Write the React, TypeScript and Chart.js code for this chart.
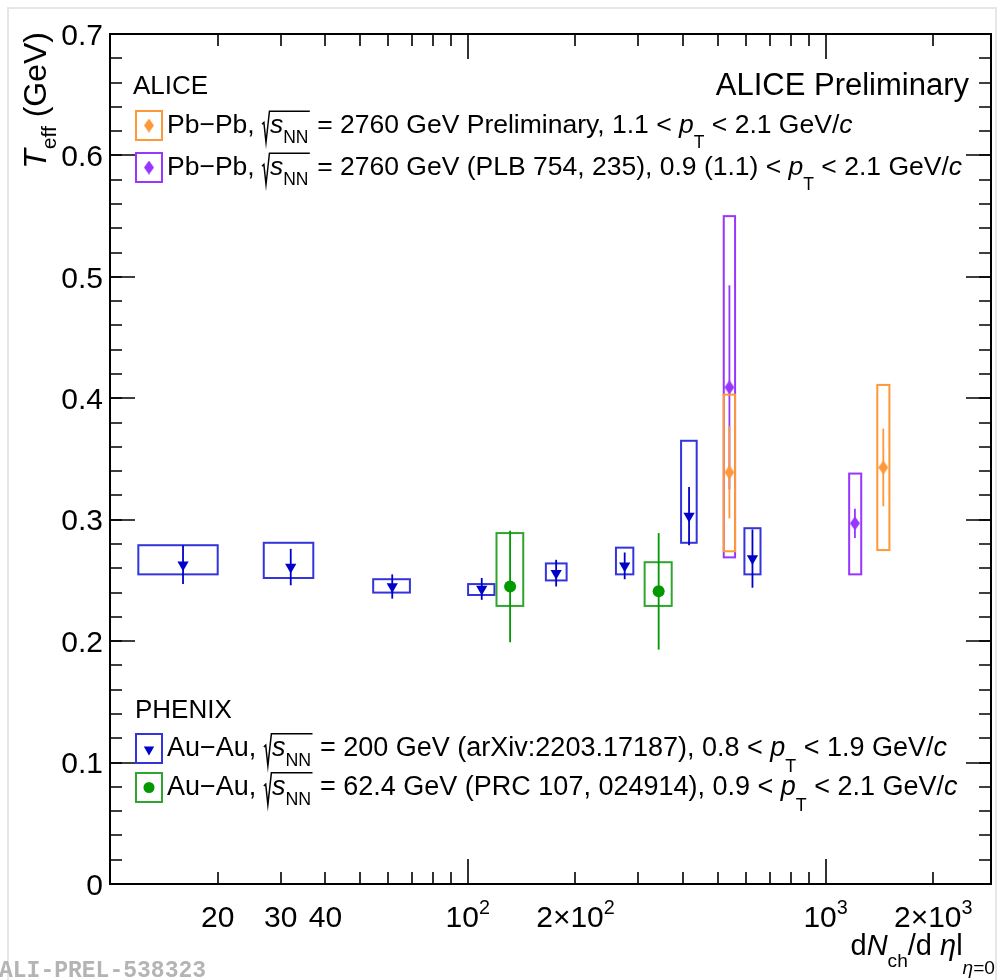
import React, { useEffect, useRef } from 'react';
import { Chart, registerables } from 'chart.js';

Chart.register(...registerables);

const FONT = '"Liberation Sans", Arial, Helvetica, sans-serif';

// PHENIX Au–Au, √sNN = 200 GeV
const auau200Nch = [16.0, 32.0, 61.5, 109.4, 176.6, 274.5, 415.4, 624.7];
const auau200NchLo = [12.0, 26.9, 54.4, 100.2, 165.3, 259.5, 394.6, 593.2];
const auau200NchHi = [20.0, 37.0, 68.9, 118.7, 188.9, 290.2, 436.3, 657.9];
const auau200Teff = [0.263, 0.261, 0.245, 0.243, 0.256, 0.262, 0.303, 0.268];
const auau200Stat = [0.016, 0.015, 0.010, 0.009, 0.011, 0.011, 0.024, 0.024];
const auau200SysLo = [0.255, 0.252, 0.240, 0.238, 0.250, 0.255, 0.281, 0.255];
const auau200SysHi = [0.279, 0.281, 0.251, 0.247, 0.264, 0.277, 0.365, 0.293];

// PHENIX Au–Au, √sNN = 62.4 GeV
const auau62Nch = [131.3, 341.6];
const auau62NchLo = [120.3, 312.1];
const auau62NchHi = [142.9, 371.5];
const auau62Teff = [0.245, 0.241];
const auau62Stat = [0.046, 0.048];
const auau62SysLo = [0.229, 0.229];
const auau62SysHi = [0.289, 0.265];

// ALICE Pb–Pb, √sNN = 2760 GeV, preliminary
const pbpbPrelNch = [538.6, 1450];
const pbpbPrelNchLo = [519.3, 1395];
const pbpbPrelNchHi = [558.6, 1508];
const pbpbPrelTeff = [0.339, 0.343];
const pbpbPrelStat = [0.038, 0.032];
const pbpbPrelSysLo = [0.274, 0.275];
const pbpbPrelSysHi = [0.403, 0.411];

// ALICE Pb–Pb, √sNN = 2760 GeV, PLB 754, 235
const pbpbPlbNch = [538.6, 1208];
const pbpbPlbNchLo = [519.3, 1164];
const pbpbPlbNchHi = [558.6, 1258];
const pbpbPlbTeff = [0.409, 0.297];
const pbpbPlbStat = [0.084, 0.012];
const pbpbPlbSysLo = [0.269, 0.255];
const pbpbPlbSysHi = [0.550, 0.338];

// Axis ranges and ticks
const xMin = 10;
const xMax = 2900;
const yMin = 0;
const yMax = 0.7;
const xMajorTicks = [100, 1000];
const xMinorTicks = [20, 30, 40, 50, 60, 70, 80, 90, 200, 300, 400, 500, 600, 700, 800, 900, 2000];
const xLabelValues = [20, 30, 40, 100, 200, 1000, 2000];
const xLabelBases = ['20', '30', '40', '10', '2×10', '10', '2×10'];
const xLabelExps = ['', '', '', '2', '2', '3', '3'];
const yMajorTicks = [0, 0.1, 0.2, 0.3, 0.4, 0.5, 0.6, 0.7];
const yTickLabels = ['0', '0.1', '0.2', '0.3', '0.4', '0.5', '0.6', '0.7'];
const yMinorStep = 0.02;

const BLUE = '#0000cc';
const BLUE_BOX = '#3434dc';
const GREEN = '#009a00';
const GREEN_BOX = '#2fa52f';
const ORANGE = '#ff9838';
const PURPLE = '#9636ff';

type Seg = { t?: string; it?: boolean; sub?: number; sup?: boolean; sqrt?: Seg[] };

const fontOf = (size: number, italic?: boolean) => `${italic ? 'italic ' : ''}${size}px ${FONT}`;

function segSize(s: Seg, size: number) {
  return s.sub !== undefined || s.sup ? size * 0.66 : size;
}

function richWidth(ctx: CanvasRenderingContext2D, segs: Seg[], size: number): number {
  let w = 0;
  for (const s of segs) {
    if (s.sqrt) {
      w += size * 0.3 + richWidth(ctx, s.sqrt, size) + size * 0.05;
    } else {
      ctx.font = fontOf(segSize(s, size), s.it);
      w += ctx.measureText(s.t || '').width;
    }
  }
  return w;
}

function drawRich(ctx: CanvasRenderingContext2D, segs: Seg[], x: number, y: number, size: number): number {
  for (const s of segs) {
    if (s.sqrt) {
      const innerW = richWidth(ctx, s.sqrt, size);
      const topY = y - size * 0.82;
      ctx.save();
      ctx.strokeStyle = ctx.fillStyle as string;
      ctx.lineWidth = Math.max(1.2, size * 0.055);
      ctx.lineJoin = 'miter';
      ctx.beginPath();
      ctx.moveTo(x, y - size * 0.33);
      ctx.lineTo(x + size * 0.07, y - size * 0.4);
      ctx.lineTo(x + size * 0.15, y + size * 0.36);
      ctx.lineTo(x + size * 0.28, topY);
      ctx.lineTo(x + size * 0.3 + innerW + size * 0.05, topY);
      ctx.stroke();
      ctx.restore();
      x = drawRich(ctx, s.sqrt, x + size * 0.3, y, size) + size * 0.05;
    } else {
      const sz = segSize(s, size);
      const dy = s.sub !== undefined ? s.sub * size : s.sup ? -size * 0.42 : 0;
      ctx.font = fontOf(sz, s.it);
      ctx.textAlign = 'left';
      ctx.textBaseline = 'alphabetic';
      ctx.fillText(s.t || '', x, y + dy);
      x += ctx.measureText(s.t || '').width;
    }
  }
  return x;
}

const sqrtS: Seg = { sqrt: [{ t: 's', it: true }, { t: 'NN', sub: 0.38 }] };
const pT: Seg[] = [{ t: 'p', it: true }, { t: 'T', sub: 0.58 }];
const gevC: Seg[] = [{ t: ' < 2.1 GeV/' }, { t: 'c', it: true }];

const legendAlice: Seg[][] = [
  [{ t: 'Pb−Pb, ' }, sqrtS, { t: ' = 2760 GeV Preliminary, 1.1 < ' }, ...pT, ...gevC],
  [{ t: 'Pb−Pb, ' }, sqrtS, { t: ' = 2760 GeV (PLB 754, 235), 0.9 (1.1) < ' }, ...pT, ...gevC],
];
const legendPhenix: Seg[][] = [
  [{ t: 'Au−Au, ' }, sqrtS, { t: ' = 200 GeV (arXiv:2203.17187), 0.8 < ' }, ...pT, { t: ' < 1.9 GeV/' }, { t: 'c', it: true }],
  [{ t: 'Au−Au, ' }, sqrtS, { t: ' = 62.4 GeV (PRC 107, 024914), 0.9 < ' }, ...pT, ...gevC],
];
const yTitle: Seg[] = [{ t: 'T', it: true }, { t: 'eff', sub: 0.3 }, { t: ' (GeV)' }];
const xTitle: Seg[] = [
  { t: 'd' }, { t: 'N', it: true }, { t: 'ch', sub: 0.4 }, { t: '/d ' }, { t: 'η', it: true },
  { t: 'l' }, { t: 'η', it: true, sub: 0.66 }, { t: '=0', sub: 0.66 },
];

function makeDiamond(color: string, w: number, h: number) {
  const c = document.createElement('canvas');
  c.width = w;
  c.height = h;
  const g = c.getContext('2d')!;
  g.fillStyle = color;
  g.beginPath();
  g.moveTo(w / 2, 0);
  g.lineTo(w, h / 2);
  g.lineTo(w / 2, h);
  g.lineTo(0, h / 2);
  g.closePath();
  g.fill();
  return c;
}

type Series = {
  x: number[]; xLo: number[]; xHi: number[]; y: number[]; stat: number[];
  sysLo: number[]; sysHi: number[]; bar: string; box: string;
};

const seriesList: Series[] = [
  { x: auau200Nch, xLo: auau200NchLo, xHi: auau200NchHi, y: auau200Teff, stat: auau200Stat, sysLo: auau200SysLo, sysHi: auau200SysHi, bar: BLUE, box: BLUE_BOX },
  { x: auau62Nch, xLo: auau62NchLo, xHi: auau62NchHi, y: auau62Teff, stat: auau62Stat, sysLo: auau62SysLo, sysHi: auau62SysHi, bar: GREEN, box: GREEN_BOX },
  { x: pbpbPlbNch, xLo: pbpbPlbNchLo, xHi: pbpbPlbNchHi, y: pbpbPlbTeff, stat: pbpbPlbStat, sysLo: pbpbPlbSysLo, sysHi: pbpbPlbSysHi, bar: PURPLE, box: PURPLE },
  { x: pbpbPrelNch, xLo: pbpbPrelNchLo, xHi: pbpbPrelNchHi, y: pbpbPrelTeff, stat: pbpbPrelStat, sysLo: pbpbPrelSysLo, sysHi: pbpbPrelSysHi, bar: ORANGE, box: ORANGE },
];

function drawTriangleDown(ctx: CanvasRenderingContext2D, x: number, y: number, r: number, color: string) {
  ctx.fillStyle = color;
  ctx.beginPath();
  ctx.moveTo(x - r * 0.866, y - r * 0.5);
  ctx.lineTo(x + r * 0.866, y - r * 0.5);
  ctx.lineTo(x, y + r);
  ctx.closePath();
  ctx.fill();
}

export default function App() {
  const ref = useRef<HTMLCanvasElement>(null);

  useEffect(() => {
    document.body.style.margin = '0';
    const canvas = ref.current!;
    const diamondOrange = makeDiamond(ORANGE, 10, 14);
    const diamondPurple = makeDiamond(PURPLE, 10, 14);

    const uncertainties = {
      id: 'uncertainties',
      beforeDatasetsDraw(chart: any) {
        const ctx: CanvasRenderingContext2D = chart.ctx;
        const xs = chart.scales.x;
        const ys = chart.scales.y;
        ctx.save();
        for (const s of seriesList) {
          s.x.forEach((xv, i) => {
            const x0 = xs.getPixelForValue(s.xLo[i]);
            const x1 = xs.getPixelForValue(s.xHi[i]);
            const y0 = ys.getPixelForValue(s.sysHi[i]);
            const y1 = ys.getPixelForValue(s.sysLo[i]);
            ctx.strokeStyle = s.box;
            ctx.lineWidth = 2;
            ctx.strokeRect(x0, y0, x1 - x0, y1 - y0);
            const px = xs.getPixelForValue(xv);
            ctx.strokeStyle = s.bar;
            ctx.lineWidth = 1.8;
            ctx.beginPath();
            ctx.moveTo(px, ys.getPixelForValue(s.y[i] + s.stat[i]));
            ctx.lineTo(px, ys.getPixelForValue(s.y[i] - s.stat[i]));
            ctx.stroke();
          });
        }
        ctx.restore();
      },
    };

    const frame = {
      id: 'frame',
      afterDraw(chart: any) {
        const ctx: CanvasRenderingContext2D = chart.ctx;
        const xs = chart.scales.x;
        const ys = chart.scales.y;
        const { left, right, top, bottom } = chart.chartArea;
        ctx.save();

        // page outline
        ctx.strokeStyle = '#e6e6e6';
        ctx.lineWidth = 2;
        ctx.strokeRect(8, 8, 988, 990);

        // frame
        ctx.strokeStyle = '#000';
        ctx.lineWidth = 2;
        ctx.strokeRect(left, top, right - left, bottom - top);

        // x ticks, bottom and top, pointing inwards
        const xTick = (v: number, len: number) => {
          const px = Math.round(xs.getPixelForValue(v));
          ctx.beginPath();
          ctx.moveTo(px, bottom);
          ctx.lineTo(px, bottom - len);
          ctx.moveTo(px, top);
          ctx.lineTo(px, top + len);
          ctx.stroke();
        };
        ctx.lineWidth = 1.6;
        xMinorTicks.forEach((v) => xTick(v, 12));
        xMajorTicks.forEach((v) => xTick(v, 25));

        // y ticks, left and right
        const yTick = (v: number, len: number) => {
          const py = Math.round(ys.getPixelForValue(v));
          ctx.beginPath();
          ctx.moveTo(left, py);
          ctx.lineTo(left + len, py);
          ctx.moveTo(right, py);
          ctx.lineTo(right - len, py);
          ctx.stroke();
        };
        const nMinor = Math.round((yMax - yMin) / yMinorStep);
        for (let k = 0; k <= nMinor; k++) yTick(yMin + k * yMinorStep, 12);
        yMajorTicks.forEach((v) => yTick(v, 25));

        // y tick labels
        ctx.fillStyle = '#000';
        ctx.font = fontOf(30);
        ctx.textAlign = 'right';
        ctx.textBaseline = 'alphabetic';
        yMajorTicks.forEach((v, i) => {
          ctx.fillText(yTickLabels[i], 103, ys.getPixelForValue(v) + 10.7);
        });

        // x tick labels with exponents
        xLabelValues.forEach((v, i) => {
          const segs: Seg[] = [{ t: xLabelBases[i] }];
          if (xLabelExps[i]) segs.push({ t: xLabelExps[i], sup: true });
          const w = richWidth(ctx, segs, 30);
          drawRich(ctx, segs, xs.getPixelForValue(v) - w / 2, 927, 30);
        });

        // axis titles
        const xtw = richWidth(ctx, xTitle, 29);
        drawRich(ctx, xTitle, 995 - xtw, 955, 29);
        ctx.save();
        ctx.translate(46, 32);
        ctx.rotate(-Math.PI / 2);
        const ytw = richWidth(ctx, yTitle, 32);
        drawRich(ctx, yTitle, -ytw, 0, 32);
        ctx.restore();

        // headers
        ctx.font = fontOf(26);
        ctx.textAlign = 'left';
        ctx.fillText('ALICE', 133, 94);
        ctx.fillText('PHENIX', 135, 718);
        ctx.font = fontOf(31);
        ctx.textAlign = 'right';
        ctx.fillText('ALICE Preliminary', 969, 95);

        // legend entries
        const entry = (boxTop: number, color: string, marker: (cx: number, cy: number) => void, segs: Seg[], size: number) => {
          ctx.strokeStyle = color;
          ctx.lineWidth = 2;
          ctx.strokeRect(136, boxTop, 26, 29);
          marker(149, boxTop + 14.5);
          ctx.fillStyle = '#000';
          drawRich(ctx, segs, 167, boxTop + 22, size);
        };
        entry(111, ORANGE, (cx, cy) => ctx.drawImage(diamondOrange, cx - 5, cy - 7), legendAlice[0], 26.5);
        entry(153, PURPLE, (cx, cy) => ctx.drawImage(diamondPurple, cx - 5, cy - 7), legendAlice[1], 26.5);
        entry(734, BLUE_BOX, (cx, cy) => drawTriangleDown(ctx, cx, cy + 1, 6, BLUE), legendPhenix[0], 27);
        entry(773, GREEN_BOX, (cx, cy) => {
          ctx.fillStyle = GREEN;
          ctx.beginPath();
          ctx.arc(cx, cy, 5.5, 0, Math.PI * 2);
          ctx.fill();
        }, legendPhenix[1], 27);

        // figure tag
        ctx.fillStyle = '#b4b4b4';
        ctx.font = `bold 23px "Liberation Mono", "DejaVu Sans Mono", monospace`;
        ctx.textAlign = 'left';
        ctx.fillText('ALI-PREL-538323', -1, 977);
        ctx.restore();
      },
    };

    const toPoints = (xv: number[], yv: number[]) => xv.map((x, i) => ({ x, y: yv[i] }));

    const chart = new Chart(canvas, {
      type: 'scatter',
      data: {
        datasets: [
          {
            label: 'Pb−Pb 2760 GeV Preliminary',
            data: toPoints(pbpbPrelNch, pbpbPrelTeff),
            pointStyle: diamondOrange as any,
            backgroundColor: ORANGE,
            borderColor: ORANGE,
          },
          {
            label: 'Pb−Pb 2760 GeV (PLB 754, 235)',
            data: toPoints(pbpbPlbNch, pbpbPlbTeff),
            pointStyle: diamondPurple as any,
            backgroundColor: PURPLE,
            borderColor: PURPLE,
          },
          {
            label: 'Au−Au 200 GeV',
            data: toPoints(auau200Nch, auau200Teff),
            pointStyle: 'triangle',
            rotation: 180,
            pointRadius: 6.5,
            backgroundColor: BLUE,
            borderColor: BLUE,
            borderWidth: 0,
          },
          {
            label: 'Au−Au 62.4 GeV',
            data: toPoints(auau62Nch, auau62Teff),
            pointStyle: 'circle',
            pointRadius: 6,
            backgroundColor: GREEN,
            borderColor: GREEN,
            borderWidth: 0,
          },
        ],
      },
      options: {
        responsive: false,
        animation: false,
        devicePixelRatio: 1,
        layout: { padding: { left: 110, right: 1002 - 991, top: 34, bottom: 980 - 884 } },
        scales: {
          x: { type: 'logarithmic', min: xMin, max: xMax, display: false },
          y: { type: 'linear', min: yMin, max: yMax, display: false },
        },
        plugins: { legend: { display: false }, tooltip: { enabled: false } },
      },
      plugins: [uncertainties, frame],
    });
    return () => chart.destroy();
  }, []);

  return <canvas ref={ref} width={1002} height={980} style={{ display: 'block', width: 1002, height: 980 }} />;
}
